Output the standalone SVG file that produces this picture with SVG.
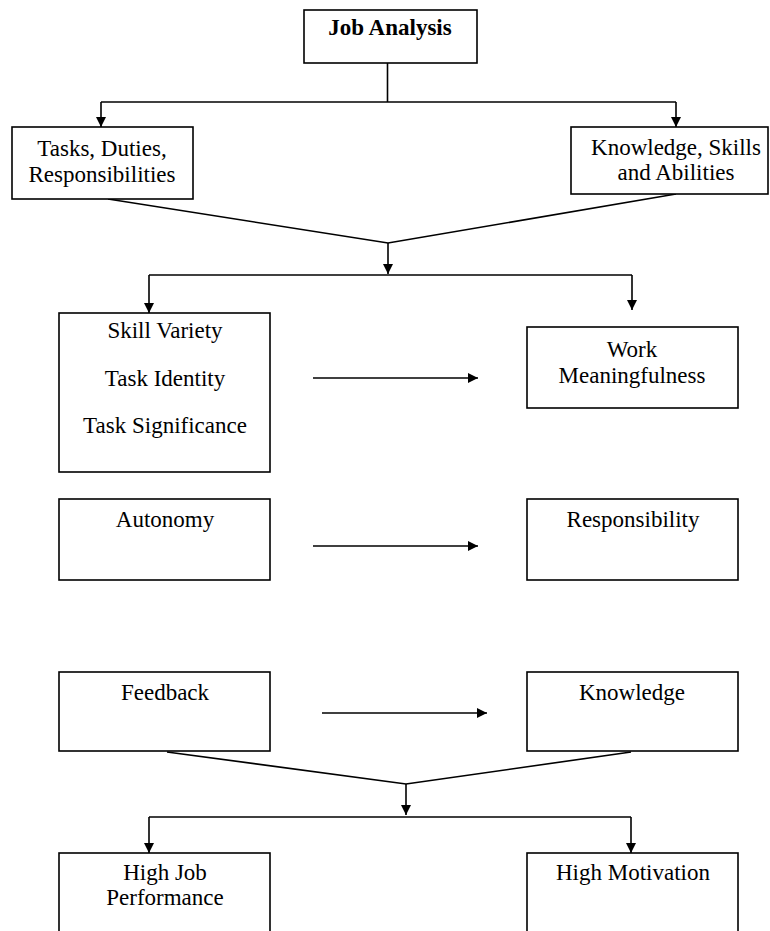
<svg xmlns="http://www.w3.org/2000/svg" width="770" height="931" viewBox="0 0 770 931">
<style>
.box{fill:#fff;stroke:#000;stroke-width:1.6}
.t{font-family:"Liberation Serif","Times New Roman",serif;font-size:23px;fill:#000;text-anchor:middle}
.b{font-weight:bold}
.c{fill:none;stroke:#000;stroke-width:1.6}
</style>
<defs>
<marker id="ah" viewBox="0 0 10 10" refX="10" refY="5" markerWidth="10" markerHeight="10" markerUnits="userSpaceOnUse" orient="auto">
<path d="M0,0 L10,5 L0,10 Z" fill="#000"/>
</marker>
</defs>
<rect width="770" height="931" fill="#fff"/>
<g id="connectors">
<polyline class="c" points="387.5,63 387.5,102"/>
<polyline class="c" points="101,102 676,102"/>
<line class="c" x1="101" y1="102" x2="101" y2="127" marker-end="url(#ah)"/>
<line class="c" x1="676" y1="102" x2="676" y2="127" marker-end="url(#ah)"/>
<polyline class="c" points="108,199 388,243 676,194"/>
<line class="c" x1="388" y1="243" x2="388" y2="274" marker-end="url(#ah)"/>
<polyline class="c" points="149,275 632,275"/>
<line class="c" x1="149" y1="275" x2="149" y2="313" marker-end="url(#ah)"/>
<line class="c" x1="632" y1="275" x2="632" y2="310" marker-end="url(#ah)"/>
<line class="c" x1="313" y1="378" x2="478" y2="378" marker-end="url(#ah)"/>
<line class="c" x1="313" y1="546" x2="478" y2="546" marker-end="url(#ah)"/>
<line class="c" x1="322" y1="713" x2="487" y2="713" marker-end="url(#ah)"/>
<polyline class="c" points="167,752 406,784 631,752"/>
<line class="c" x1="406" y1="784" x2="406" y2="815" marker-end="url(#ah)"/>
<polyline class="c" points="149,817 631,817"/>
<line class="c" x1="149" y1="817" x2="149" y2="853" marker-end="url(#ah)"/>
<line class="c" x1="631" y1="817" x2="631" y2="853" marker-end="url(#ah)"/>
</g>
<g id="job-analysis">
<rect class="box" x="304" y="10" width="173" height="53"/>
<text class="t b" x="390" y="35">Job Analysis</text>
</g>
<g id="tasks">
<rect class="box" x="12" y="127" width="181" height="72"/>
<text class="t" x="102" y="156">Tasks, Duties,</text>
<text class="t" x="102" y="182">Responsibilities</text>
</g>
<g id="ksa">
<rect class="box" x="571" y="127" width="197" height="67"/>
<text class="t" x="676" y="155">Knowledge, Skills</text>
<text class="t" x="676" y="180">and Abilities</text>
</g>
<g id="skill">
<rect class="box" x="59" y="313" width="211" height="159"/>
<text class="t" x="165" y="338">Skill Variety</text>
<text class="t" x="165" y="386">Task Identity</text>
<text class="t" x="165" y="433">Task Significance</text>
</g>
<g id="work">
<rect class="box" x="527" y="327" width="211" height="81"/>
<text class="t" x="632" y="357">Work</text>
<text class="t" x="632" y="383">Meaningfulness</text>
</g>
<g id="autonomy">
<rect class="box" x="59" y="499" width="211" height="81"/>
<text class="t" x="165" y="527">Autonomy</text>
</g>
<g id="responsibility">
<rect class="box" x="527" y="499" width="211" height="81"/>
<text class="t" x="633" y="527">Responsibility</text>
</g>
<g id="feedback">
<rect class="box" x="59" y="672" width="211" height="79"/>
<text class="t" x="165" y="700">Feedback</text>
</g>
<g id="knowledge">
<rect class="box" x="527" y="672" width="211" height="79"/>
<text class="t" x="632" y="700">Knowledge</text>
</g>
<g id="high-job-performance">
<rect class="box" x="59" y="853" width="211" height="100"/>
<text class="t" x="165" y="880">High Job</text>
<text class="t" x="165" y="905">Performance</text>
</g>
<g id="high-motivation">
<rect class="box" x="527" y="853" width="211" height="100"/>
<text class="t" x="633" y="880">High Motivation</text>
</g>
</svg>
